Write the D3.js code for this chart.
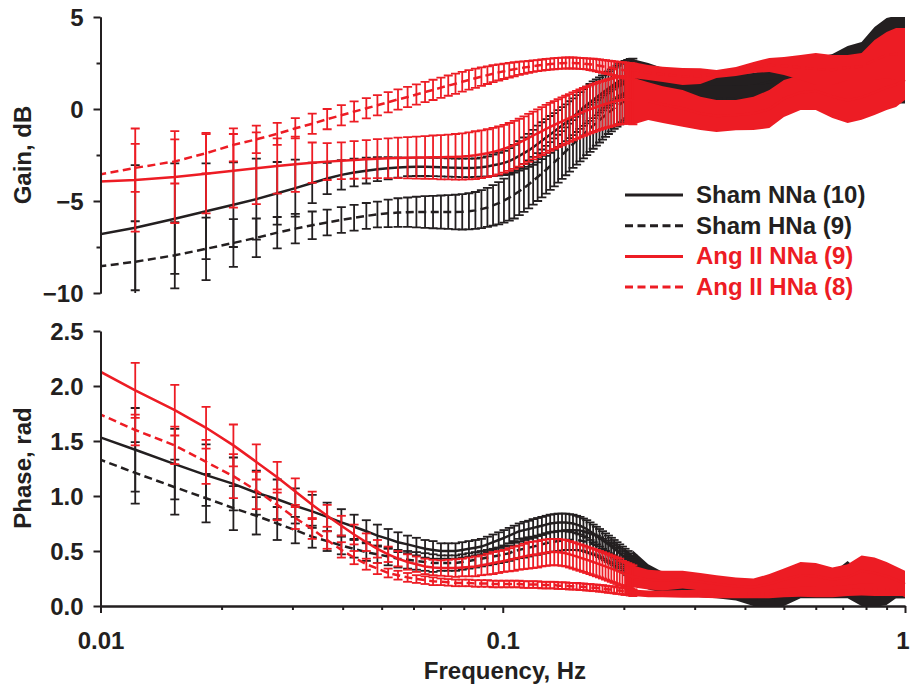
<!DOCTYPE html>
<html>
<head>
<meta charset="utf-8">
<script src="https://cdn.jsdelivr.net/npm/d3@7"></script>
<style>
  body { margin: 0; background: #fff; }
  svg text { font-family: Arial, "Liberation Sans", Helvetica, sans-serif; font-weight: bold; fill: #231f20; }
</style>
</head>
<body>
<svg width="910" height="687"></svg>
<script>
// FFT bins (Hz) where every error bar is drawn
var freqs = [
  0.0092, 0.0122, 0.0153, 0.0183, 0.0214, 0.0244, 0.0275, 0.0305, 0.0336, 0.0366,
  0.0397, 0.0427, 0.0458, 0.0488, 0.0519, 0.0549, 0.0580, 0.0610, 0.0641, 0.0671,
  0.0702, 0.0732, 0.0763, 0.0793, 0.0824, 0.0855, 0.0885, 0.0916, 0.0946, 0.0977,
  0.1007, 0.1038, 0.1068, 0.1099, 0.1129, 0.1160, 0.1190, 0.1221, 0.1251, 0.1282,
  0.1312, 0.1343, 0.1373, 0.1404, 0.1434, 0.1465, 0.1495, 0.1526, 0.1556, 0.1587,
  0.1617, 0.1648, 0.1678, 0.1709, 0.1740, 0.1770, 0.1801, 0.1831, 0.1862, 0.1892,
  0.1923, 0.1953, 0.1984, 0.2014, 0.2045, 0.2075, 0.2106];

// gain, dB (mean and SEM)
var gainShamNNa = [
  -6.95, -6.45, -5.96, -5.56, -5.2, -4.9, -4.58, -4.3, -4.02, -3.78,
  -3.58, -3.45, -3.35, -3.27, -3.22, -3.18, -3.15, -3.14, -3.14, -3.15,
  -3.16, -3.18, -3.19, -3.2, -3.2, -3.19, -3.16, -3.12, -3.06, -3.0,
  -2.93, -2.83, -2.7, -2.55, -2.4, -2.25, -2.08, -1.9, -1.72, -1.55,
  -1.38, -1.22, -1.06, -0.9, -0.75, -0.58, -0.42, -0.25, -0.08, 0.08,
  0.22, 0.36, 0.5, 0.63, 0.76, 0.88, 1.0, 1.12, 1.23, 1.34,
  1.45, 1.55, 1.64, 1.71, 1.77, 1.82, 1.86];
var gainShamNNaSem = [
  3.6, 3.4, 3.0, 2.6, 2.3, 2.2, 1.7, 1.55, 1.1, 0.85,
  0.8, 0.75, 0.7, 0.65, 0.6, 0.55, 0.5, 0.5, 0.5, 0.5,
  0.5, 0.5, 0.5, 0.5, 0.5, 0.5, 0.52, 0.55, 0.58, 0.62,
  0.66, 0.7, 0.75, 0.8, 0.85, 0.9, 0.95, 1.0, 1.0, 1.0,
  1.0, 1.0, 1.0, 1.0, 1.0, 1.0, 1.0, 1.0, 1.0, 1.0,
  1.0, 1.0, 1.0, 0.98, 0.96, 0.95, 0.94, 0.93, 0.92, 0.91,
  0.9, 0.9, 0.9, 0.9, 0.9, 0.9, 0.88];
var gainShamHNa = [
  -8.65, -8.3, -7.95, -7.6, -7.28, -7.0, -6.72, -6.5, -6.32, -6.17,
  -6.03, -5.91, -5.81, -5.73, -5.67, -5.63, -5.61, -5.6, -5.6, -5.6,
  -5.6, -5.6, -5.6, -5.59, -5.56, -5.51, -5.44, -5.35, -5.24, -5.12,
  -4.98, -4.82, -4.65, -4.47, -4.29, -4.1, -3.9, -3.7, -3.5, -3.3,
  -3.1, -2.9, -2.7, -2.5, -2.3, -2.1, -1.9, -1.72, -1.55, -1.38,
  -1.21, -1.05, -0.9, -0.75, -0.6, -0.46, -0.33, -0.2, -0.08, 0.04,
  0.15, 0.25, 0.35, 0.44, 0.52, 0.6, 0.66];
var gainShamHNaSem = [
  2.4, 2.2, 1.8, 1.7, 1.3, 1.05, 0.85, 0.8, 0.75, 0.7,
  0.7, 0.7, 0.7, 0.7, 0.75, 0.78, 0.8, 0.83, 0.86, 0.88,
  0.9, 0.92, 0.94, 0.96, 0.98, 1.0, 1.03, 1.06, 1.1, 1.15,
  1.2, 1.25, 1.3, 1.3, 1.3, 1.3, 1.3, 1.3, 1.3, 1.3,
  1.3, 1.3, 1.3, 1.3, 1.3, 1.3, 1.3, 1.3, 1.3, 1.3,
  1.3, 1.28, 1.26, 1.24, 1.22, 1.2, 1.18, 1.16, 1.14, 1.12,
  1.1, 1.08, 1.06, 1.04, 1.02, 1.0, 0.98];
var gainAngNNa = [
  -3.98, -3.86, -3.7, -3.52, -3.36, -3.22, -3.1, -3.0, -2.92, -2.86,
  -2.81, -2.77, -2.73, -2.7, -2.68, -2.66, -2.65, -2.64, -2.63, -2.62,
  -2.62, -2.61, -2.6, -2.58, -2.55, -2.51, -2.46, -2.4, -2.33, -2.25,
  -2.16, -2.06, -1.95, -1.83, -1.7, -1.57, -1.44, -1.32, -1.2, -1.08,
  -0.97, -0.87, -0.77, -0.67, -0.58, -0.49, -0.4, -0.32, -0.24, -0.16,
  -0.09, -0.02, 0.05, 0.11, 0.17, 0.22, 0.27, 0.32, 0.36, 0.4,
  0.44, 0.47, 0.49, 0.5, 0.5, 0.49, 0.47];
var gainAngNNaSem = [
  3.0, 2.8, 2.5, 2.15, 2.0, 1.95, 1.5, 1.5, 1.1, 1.0,
  1.0, 1.02, 1.04, 1.06, 1.08, 1.1, 1.12, 1.14, 1.16, 1.18,
  1.2, 1.22, 1.24, 1.26, 1.28, 1.3, 1.3, 1.3, 1.3, 1.3,
  1.3, 1.3, 1.3, 1.3, 1.3, 1.3, 1.3, 1.3, 1.3, 1.3,
  1.3, 1.3, 1.3, 1.3, 1.3, 1.3, 1.3, 1.3, 1.3, 1.3,
  1.3, 1.3, 1.3, 1.3, 1.3, 1.3, 1.3, 1.3, 1.3, 1.3,
  1.3, 1.3, 1.3, 1.3, 1.3, 1.3, 1.3];
var gainAngHNa = [
  -3.7, -3.2, -2.85, -2.4, -1.95, -1.65, -1.35, -1.05, -0.8, -0.55,
  -0.34, -0.14, 0.04, 0.2, 0.37, 0.52, 0.65, 0.79, 0.92, 1.04,
  1.16, 1.27, 1.37, 1.48, 1.58, 1.67, 1.76, 1.84, 1.92, 1.99,
  2.05, 2.11, 2.16, 2.21, 2.25, 2.29, 2.33, 2.36, 2.39, 2.42,
  2.44, 2.46, 2.48, 2.49, 2.5, 2.5, 2.5, 2.49, 2.48, 2.47,
  2.45, 2.43, 2.41, 2.38, 2.35, 2.32, 2.29, 2.26, 2.23, 2.2,
  2.17, 2.14, 2.12, 2.1, 2.08, 2.06, 2.04];
var gainAngHNaSem = [
  1.4, 1.3, 1.2, 1.1, 0.9, 0.75, 0.6, 0.55, 0.55, 0.55,
  0.55, 0.55, 0.55, 0.55, 0.55, 0.55, 0.55, 0.55, 0.55, 0.55,
  0.55, 0.55, 0.55, 0.54, 0.53, 0.52, 0.5, 0.48, 0.46, 0.44,
  0.42, 0.4, 0.38, 0.36, 0.34, 0.32, 0.31, 0.3, 0.3, 0.3,
  0.3, 0.3, 0.3, 0.3, 0.3, 0.3, 0.3, 0.3, 0.3, 0.3,
  0.3, 0.31, 0.32, 0.33, 0.34, 0.35, 0.36, 0.37, 0.38, 0.39,
  0.4, 0.41, 0.42, 0.43, 0.43, 0.43, 0.43];

// phase, rad (mean and SEM)
var phaseShamNNa = [
  1.58, 1.42, 1.29, 1.19, 1.11, 1.03, 0.97, 0.91, 0.86, 0.81,
  0.76, 0.72, 0.68, 0.64, 0.61, 0.58, 0.56, 0.54, 0.52, 0.51,
  0.5, 0.5, 0.5, 0.51, 0.52, 0.53, 0.54, 0.56, 0.58, 0.6,
  0.62, 0.64, 0.66, 0.68, 0.69, 0.7, 0.71, 0.72, 0.73, 0.74,
  0.75, 0.755, 0.76, 0.76, 0.76, 0.755, 0.75, 0.74, 0.73, 0.715,
  0.7, 0.68, 0.66, 0.64, 0.62, 0.6, 0.58, 0.56, 0.54, 0.52,
  0.5, 0.48, 0.46, 0.44, 0.42, 0.4, 0.38];
var phaseShamNNaSem = [
  0.4, 0.38, 0.32, 0.28, 0.24, 0.2, 0.18, 0.16, 0.15, 0.13,
  0.12, 0.11, 0.1, 0.1, 0.09, 0.09, 0.08, 0.08, 0.08, 0.08,
  0.07, 0.07, 0.07, 0.07, 0.07, 0.07, 0.07, 0.07, 0.07, 0.07,
  0.07, 0.07, 0.07, 0.07, 0.075, 0.075, 0.08, 0.08, 0.08, 0.08,
  0.08, 0.08, 0.08, 0.08, 0.08, 0.08, 0.08, 0.08, 0.08, 0.08,
  0.08, 0.08, 0.08, 0.08, 0.08, 0.08, 0.08, 0.08, 0.08, 0.08,
  0.08, 0.08, 0.08, 0.08, 0.08, 0.08, 0.08];
var phaseShamHNa = [
  1.38, 1.21, 1.08, 0.98, 0.89, 0.82, 0.75, 0.69, 0.63, 0.59,
  0.55, 0.52, 0.49, 0.47, 0.45, 0.43, 0.42, 0.41, 0.4, 0.39,
  0.39, 0.39, 0.39, 0.4, 0.41, 0.42, 0.43, 0.44, 0.45, 0.46,
  0.47, 0.48, 0.5, 0.51, 0.52, 0.53, 0.54, 0.55, 0.56, 0.57,
  0.58, 0.585, 0.59, 0.595, 0.6, 0.6, 0.6, 0.6, 0.595, 0.59,
  0.58, 0.57, 0.56, 0.55, 0.535, 0.52, 0.505, 0.49, 0.475, 0.46,
  0.445, 0.43, 0.41, 0.39, 0.37, 0.35, 0.33];
var phaseShamHNaSem = [
  0.3, 0.28, 0.25, 0.22, 0.2, 0.17, 0.15, 0.12, 0.1, 0.09,
  0.08, 0.08, 0.08, 0.08, 0.08, 0.08, 0.08, 0.08, 0.08, 0.08,
  0.07, 0.07, 0.07, 0.07, 0.07, 0.07, 0.07, 0.07, 0.07, 0.07,
  0.07, 0.07, 0.075, 0.075, 0.08, 0.08, 0.08, 0.085, 0.085, 0.09,
  0.09, 0.09, 0.09, 0.09, 0.09, 0.09, 0.09, 0.09, 0.09, 0.09,
  0.09, 0.09, 0.09, 0.09, 0.09, 0.09, 0.09, 0.09, 0.09, 0.09,
  0.09, 0.09, 0.09, 0.09, 0.09, 0.09, 0.09];
var phaseAngNNa = [
  2.2, 1.96, 1.78, 1.62, 1.46, 1.31, 1.17, 1.04, 0.92, 0.82,
  0.73, 0.65, 0.58, 0.52, 0.47, 0.43, 0.4, 0.38, 0.36, 0.35,
  0.345, 0.345, 0.345, 0.35, 0.355, 0.36, 0.37, 0.38, 0.39, 0.4,
  0.41, 0.42, 0.43, 0.44, 0.45, 0.46, 0.465, 0.47, 0.48, 0.485,
  0.49, 0.49, 0.49, 0.485, 0.48, 0.47, 0.46, 0.45, 0.44, 0.43,
  0.42, 0.41, 0.4, 0.39, 0.38, 0.37, 0.36, 0.35, 0.34, 0.33,
  0.32, 0.31, 0.3, 0.29, 0.28, 0.27, 0.26];
var phaseAngNNaSem = [
  0.27, 0.25, 0.23, 0.19, 0.19, 0.16, 0.14, 0.12, 0.12, 0.1,
  0.09, 0.09, 0.08, 0.08, 0.07, 0.07, 0.07, 0.07, 0.07, 0.07,
  0.07, 0.075, 0.08, 0.08, 0.085, 0.09, 0.09, 0.095, 0.1, 0.1,
  0.1, 0.105, 0.11, 0.11, 0.115, 0.12, 0.12, 0.12, 0.12, 0.12,
  0.12, 0.12, 0.12, 0.12, 0.12, 0.12, 0.12, 0.12, 0.12, 0.12,
  0.12, 0.12, 0.12, 0.12, 0.12, 0.12, 0.12, 0.12, 0.12, 0.12,
  0.12, 0.12, 0.11, 0.11, 0.11, 0.11, 0.11];
var phaseAngHNa = [
  1.8, 1.6, 1.46, 1.31, 1.18, 1.05, 0.92, 0.8, 0.7, 0.6,
  0.51, 0.44, 0.38, 0.34, 0.3, 0.28, 0.26, 0.245, 0.235, 0.225,
  0.22, 0.215, 0.21, 0.21, 0.21, 0.205, 0.205, 0.205, 0.2, 0.2,
  0.2, 0.2, 0.2, 0.2, 0.195, 0.195, 0.195, 0.195, 0.19, 0.19,
  0.19, 0.19, 0.185, 0.185, 0.185, 0.18, 0.18, 0.18, 0.175, 0.175,
  0.17, 0.17, 0.165, 0.165, 0.16, 0.16, 0.155, 0.15, 0.15, 0.145,
  0.14, 0.14, 0.135, 0.13, 0.13, 0.125, 0.12];
var phaseAngHNaSem = [
  0.15, 0.14, 0.17, 0.2, 0.2, 0.17, 0.14, 0.1, 0.09, 0.08,
  0.07, 0.06, 0.05, 0.05, 0.04, 0.04, 0.04, 0.035, 0.035, 0.035,
  0.03, 0.03, 0.03, 0.03, 0.03, 0.03, 0.03, 0.03, 0.03, 0.03,
  0.03, 0.03, 0.03, 0.03, 0.03, 0.03, 0.03, 0.03, 0.03, 0.03,
  0.03, 0.03, 0.03, 0.03, 0.03, 0.03, 0.03, 0.03, 0.03, 0.03,
  0.03, 0.03, 0.03, 0.03, 0.03, 0.03, 0.03, 0.03, 0.03, 0.03,
  0.03, 0.03, 0.03, 0.03, 0.03, 0.03, 0.03];

// above ~0.2 Hz the bars are so dense they read as a solid band
var bandFreqs = [0.21, 0.23, 0.25, 0.28, 0.31, 0.34, 0.38, 0.42, 0.46, 0.5,
  0.55, 0.6, 0.66, 0.72, 0.78, 0.84, 0.9, 0.95, 1.0];
var bandGainShamNNa    = [1.85, 1.68, 1.47, 1.25, 1.14, 1.14, 1.2, 1.25, 1.47, 1.68, 1.85, 1.96, 2.12, 2.55, 2.77, 3.48, 3.86, 3.97, 3.97];
var bandGainShamNNaSem = [0.87, 0.82, 0.76, 0.71, 0.71, 0.71, 0.71, 0.71, 0.71, 0.76, 0.82, 0.82, 0.87, 0.87, 0.87, 0.98, 1.09, 1.09, 1.09];
var bandGainShamHNa    = [0.76, 0.76, 0.72, 0.66, 0.6, 0.55, 0.55, 0.6, 0.65, 0.7, 0.8, 0.85, 0.8, 0.75, 0.8, 0.9, 1.0, 1.1, 1.1];
var bandGainShamHNaSem = [0.76, 0.72, 0.72, 0.72, 0.72, 0.72, 0.72, 0.72, 0.72, 0.72, 0.72, 0.72, 0.72, 0.75, 0.78, 0.8, 0.8, 0.8, 0.8];
var bandGainAngNNa     = [0.43, 0.43, 0.24, 0.03, -0.24, -0.38, -0.33, -0.24, 0.0, 0.57, 0.9, 0.98, 0.68, 0.46, 0.63, 0.9, 1.17, 1.33, 1.58];
var bandGainAngNNaSem  = [1.28, 1.03, 1.0, 1.0, 0.9, 0.87, 0.82, 0.9, 1.03, 1.0, 0.95, 1.03, 1.17, 1.22, 1.22, 1.22, 1.22, 1.22, 1.09];
var bandGainAngHNa     = [2.12, 1.98, 1.88, 1.77, 1.79, 1.9, 2.04, 2.26, 2.39, 2.34, 2.26, 2.17, 2.12, 2.26, 2.31, 2.66, 2.93, 2.99, 2.99];
var bandGainAngHNaSem  = [0.43, 0.41, 0.41, 0.46, 0.43, 0.22, 0.24, 0.3, 0.38, 0.49, 0.68, 0.87, 0.82, 0.68, 0.73, 1.09, 1.25, 1.41, 1.41];

var bandPhaseShamNNa    = [0.42, 0.3, 0.24, 0.2, 0.18, 0.17, 0.16, 0.15, 0.15, 0.16, 0.17, 0.17, 0.2, 0.3, 0.2, 0.18, 0.17, 0.16, 0.16];
var bandPhaseShamNNaSem = [0.09, 0.08, 0.07, 0.07, 0.07, 0.07, 0.07, 0.07, 0.07, 0.07, 0.07, 0.08, 0.1, 0.11, 0.1, 0.09, 0.09, 0.09, 0.09];
var bandPhaseShamHNa    = [0.3, 0.22, 0.18, 0.15, 0.13, 0.12, 0.1, 0.06, 0.05, 0.06, 0.12, 0.12, 0.12, 0.12, 0.08, 0.07, 0.08, 0.12, 0.12];
var bandPhaseShamHNaSem = [0.08, 0.07, 0.06, 0.05, 0.05, 0.05, 0.05, 0.06, 0.06, 0.06, 0.05, 0.05, 0.05, 0.05, 0.08, 0.08, 0.07, 0.05, 0.05];
var bandPhaseAngNNa     = [0.27, 0.24, 0.23, 0.24, 0.22, 0.2, 0.18, 0.17, 0.2, 0.24, 0.28, 0.27, 0.24, 0.26, 0.32, 0.3, 0.27, 0.24, 0.2];
var bandPhaseAngNNaSem  = [0.1, 0.09, 0.09, 0.08, 0.08, 0.08, 0.08, 0.08, 0.09, 0.1, 0.12, 0.12, 0.11, 0.12, 0.14, 0.14, 0.13, 0.12, 0.12];
var bandPhaseAngHNa     = [0.12, 0.11, 0.11, 0.11, 0.11, 0.11, 0.11, 0.11, 0.11, 0.12, 0.13, 0.13, 0.13, 0.14, 0.15, 0.15, 0.15, 0.15, 0.15];
var bandPhaseAngHNaSem  = [0.03, 0.03, 0.03, 0.035, 0.035, 0.04, 0.04, 0.04, 0.04, 0.04, 0.045, 0.05, 0.05, 0.05, 0.055, 0.06, 0.06, 0.06, 0.06];

var gainTicks = [-10, -5, 0, 5];
var gainMinorTicks = [-7.5, -2.5, 2.5];
var phaseTicks = [0, 0.5, 1, 1.5, 2, 2.5];
var freqTicks = [0.01, 0.1, 1];
var freqMinorTicks = [0.02, 0.03, 0.04, 0.05, 0.06, 0.07, 0.08, 0.09,
  0.2, 0.3, 0.4, 0.5, 0.6, 0.7, 0.8, 0.9];

var black = "#231f20", red = "#ed1c24";

var series = [
  {label: "Sham NNa (10)", color: black, dash: null,
   gain: gainShamNNa, gainSem: gainShamNNaSem, phase: phaseShamNNa, phaseSem: phaseShamNNaSem,
   bGain: bandGainShamNNa, bGainSem: bandGainShamNNaSem, bPhase: bandPhaseShamNNa, bPhaseSem: bandPhaseShamNNaSem},
  {label: "Sham HNa (9)", color: black, dash: "8,4.5",
   gain: gainShamHNa, gainSem: gainShamHNaSem, phase: phaseShamHNa, phaseSem: phaseShamHNaSem,
   bGain: bandGainShamHNa, bGainSem: bandGainShamHNaSem, bPhase: bandPhaseShamHNa, bPhaseSem: bandPhaseShamHNaSem},
  {label: "Ang II NNa (9)", color: red, dash: null,
   gain: gainAngNNa, gainSem: gainAngNNaSem, phase: phaseAngNNa, phaseSem: phaseAngNNaSem,
   bGain: bandGainAngNNa, bGainSem: bandGainAngNNaSem, bPhase: bandPhaseAngNNa, bPhaseSem: bandPhaseAngNNaSem},
  {label: "Ang II HNa (8)", color: red, dash: "8,4.5",
   gain: gainAngHNa, gainSem: gainAngHNaSem, phase: phaseAngHNa, phaseSem: phaseAngHNaSem,
   bGain: bandGainAngHNa, bGainSem: bandGainAngHNaSem, bPhase: bandPhaseAngHNa, bPhaseSem: bandPhaseAngHNaSem}
];

var svg = d3.select("svg");
var x = d3.scaleLog().domain([0.01, 1]).range([100.5, 905]);
var yGain = d3.scaleLinear().domain([-10, 5]).range([293, 17]);
var yPhase = d3.scaleLinear().domain([0, 2.5]).range([606, 331]);

function drawPanel(y, key, semKey, bKey, bSemKey, clipId) {
    var r = y.range();
    svg.append("clipPath").attr("id", clipId)
        .append("rect").attr("x", 100.5).attr("y", r[1])
        .attr("width", 806).attr("height", r[0] - r[1]);
    var g = svg.append("g").attr("clip-path", "url(#" + clipId + ")");

    series.forEach(function(s) {
        var pts = freqs.map(function(f, i) { return {f: f, m: s[key][i], e: s[semKey][i]}; });
        var band = bandFreqs.map(function(f, i) { return {f: f, m: s[bKey][i], e: s[bSemKey][i]}; });
        var sg = g.append("g").attr("stroke", s.color);

        // dense part drawn as a filled band
        sg.append("path")
            .datum(pts.filter(function(d) { return d.f >= 0.2; }).concat(band))
            .attr("fill", s.color).attr("stroke", "none")
            .attr("d", d3.area()
                .x(function(d) { return x(d.f); })
                .y0(function(d) { return y(d.m - d.e); })
                .y1(function(d) { return y(d.m + d.e); }));

        var bars = sg.selectAll(".bar").data(pts).enter().append("g")
            .attr("class", "bar").attr("stroke-width", 1.8);
        bars.append("line")
            .attr("x1", function(d) { return x(d.f); }).attr("x2", function(d) { return x(d.f); })
            .attr("y1", function(d) { return y(d.m - d.e); }).attr("y2", function(d) { return y(d.m + d.e); });
        [-1, 1].forEach(function(sign) {
            bars.append("line")
                .attr("x1", function(d) { return x(d.f) - 4.5; }).attr("x2", function(d) { return x(d.f) + 4.5; })
                .attr("y1", function(d) { return y(d.m + sign * d.e); })
                .attr("y2", function(d) { return y(d.m + sign * d.e); });
        });

        sg.append("path")
            .datum(pts.concat(band))
            .attr("fill", "none").attr("stroke-width", 2.5)
            .attr("stroke-dasharray", s.dash)
            .attr("d", d3.line()
                .x(function(d) { return x(d.f); })
                .y(function(d) { return y(d.m); }));
    });
}

drawPanel(yGain, "gain", "gainSem", "bGain", "bGainSem", "clipGain");
drawPanel(yPhase, "phase", "phaseSem", "bPhase", "bPhaseSem", "clipPhase");

function styleAxis(sel) {
    sel.selectAll("path, line").attr("stroke", black).attr("stroke-width", 2);
    sel.selectAll("text").attr("font-size", 24).attr("fill", black);
}

// gain axis
svg.append("g").attr("transform", "translate(100.5,0)")
    .call(d3.axisLeft(yGain).tickValues(gainMinorTicks).tickSize(4).tickSizeOuter(0).tickFormat(""))
    .call(styleAxis);
svg.append("g").attr("transform", "translate(100.5,0)")
    .call(d3.axisLeft(yGain).tickValues(gainTicks).tickSize(7).tickSizeOuter(0).tickPadding(10))
    .call(styleAxis)
    .selectAll("text").attr("dy", "0.36em");

// phase axis
svg.append("g").attr("transform", "translate(100.5,0)")
    .call(d3.axisLeft(yPhase).tickValues(phaseTicks).tickSize(7).tickSizeOuter(0).tickPadding(10)
        .tickFormat(d3.format(".1f")))
    .call(styleAxis)
    .selectAll("text").attr("dy", "0.36em");

// frequency axis
svg.append("g").attr("transform", "translate(0,606)")
    .call(d3.axisBottom(x).tickValues(freqMinorTicks).tickSize(4).tickSizeOuter(0).tickFormat(""))
    .call(styleAxis);
var freqAxis = svg.append("g").attr("transform", "translate(0,606)")
    .call(d3.axisBottom(x).tickValues(freqTicks).tickSize(7).tickSizeOuter(0)
        .tickFormat(function(d) { return String(d); }))
    .call(styleAxis);
freqAxis.selectAll("text").attr("y", 43).attr("dy", 0);
// the "1" sits at the right edge of the figure
freqAxis.selectAll("text").filter(function(d) { return d === 1; })
    .attr("text-anchor", "end").attr("x", 4);

// axis titles
svg.append("text").attr("transform", "translate(31,155) rotate(-90)")
    .attr("text-anchor", "middle").attr("font-size", 24).text("Gain, dB");
svg.append("text").attr("transform", "translate(31,468) rotate(-90)")
    .attr("text-anchor", "middle").attr("font-size", 24).text("Phase, rad");
svg.append("text").attr("x", 505).attr("y", 679)
    .attr("text-anchor", "middle").attr("font-size", 24).text("Frequency, Hz");

// legend
var legend = svg.append("g").selectAll("g").data(series).enter().append("g")
    .attr("transform", function(d, i) { return "translate(625," + (195 + i * 30.7) + ")"; });
legend.append("line").attr("x1", 0).attr("x2", 58)
    .attr("stroke", function(d) { return d.color; }).attr("stroke-width", 3)
    .attr("stroke-dasharray", function(d) { return d.dash; });
legend.append("text").attr("x", 71).attr("y", 8).attr("font-size", 24)
    .style("fill", function(d) { return d.color; })
    .text(function(d) { return d.label; });
</script>
</body>
</html>
